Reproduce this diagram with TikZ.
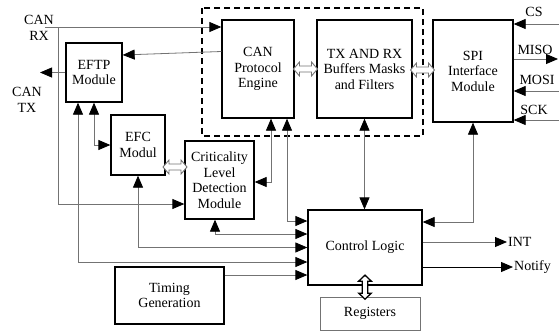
\documentclass[tikz,border=0pt]{standalone}
\usepackage{fontspec}
\setmainfont{Liberation Serif}
\usetikzlibrary{arrows.meta,calc}

\tikzset{
  blk/.style={draw, line width=1.3pt, align=center, inner sep=1pt, font=\fontsize{14}{15.5}\selectfont},
  wire/.style={draw=black!55, line width=0.8pt},
  to/.style={-{Triangle[length=12pt,width=10pt,color=black]}},
  from/.style={{Triangle[length=12pt,width=10pt,color=black]}-},
  both/.style={{Triangle[length=12pt,width=10pt,color=black]}-{Triangle[length=12pt,width=10pt,color=black]}},
  lbl/.style={font=\fontsize{14}{15.5}\selectfont, inner sep=1pt, align=center},
  busline/.style={draw=black!55, fill=white, line width=0.9pt},
  bus/.pic={
    \draw[busline]
      (-12,0) -- (-6,-7) -- (-6,-3) -- (6,-3) -- (6,-7) -- (12,0)
      -- (6,7) -- (6,3) -- (-6,3) -- (-6,7) -- cycle;
  }
}

\begin{document}
\begin{tikzpicture}[x=1pt, y=-1pt]
    \useasboundingbox (0,0) rectangle (559,332);

    % CAN controller core
    \draw[line width=1.3pt, dash pattern=on 6pt off 4pt] (202,8) rectangle (423,136);

    % blocks
    \node[blk, minimum width=72pt, minimum height=98pt] (eng) at (258,69) {CAN\\Protocol\\Engine};
    \node[blk, minimum width=95pt, minimum height=98pt] (buf) at (364.5,69) {TX AND RX\\Buffers Masks\\and Filters};
    \node[blk, minimum width=80pt, minimum height=102pt] (spi) at (473,71) {SPI\\Interface\\Module};
    \node[blk, minimum width=56pt, minimum height=59pt] (eftp) at (94,72.5) {EFTP\\Module};
    \node[blk, minimum width=54pt, minimum height=60pt] (efc) at (138,145) {EFC\\Modul};
    \node[blk, minimum width=69pt, minimum height=78pt] (cld) at (219.5,180) {Criticality\\Level\\Detection\\Module};
    \node[blk, minimum width=114pt, minimum height=75pt] (ctrl) at (365,247.5) {Control Logic};
    \node[blk, minimum width=109pt, minimum height=57pt] (tim) at (169.5,295.5) {Timing\\Generation};
    \node[blk, draw=black!55, line width=0.8pt, minimum width=100pt, minimum height=33pt] (reg) at (370,313.5) {Registers};

    % outside signals
    \node[lbl] (canrx) at (39,28) {CAN\\RX};
    \node[lbl] (cantx) at (27,100) {CAN\\TX};
    \node[lbl] (cs) at (534,12) {CS};
    \node[lbl] (miso) at (535,50) {MISO};
    \node[lbl] (mosi) at (537,80) {MOSI};
    \node[lbl] (sck) at (534,110) {SCK};
    \node[lbl, anchor=west] (int) at (507,242) {INT};
    \node[lbl, anchor=west] (ntf) at (513,267) {Notify};

    \coordinate (rxin) at (45,27);
    \coordinate (rxj) at (58,27);
    \coordinate (txout) at (40,72.5);
    \coordinate (csin) at (559,24);
    \coordinate (misoout) at (558,59);
    \coordinate (mosiin) at (559,91);
    \coordinate (sckin) at (559,120);

    % CAN side
    \draw[wire,to] (rxin) -- (rxin -| eng.west);
    \draw[wire,to] (rxj) |- ([yshift=-24pt]cld.west);
    \draw[wire,to] ([yshift=17.5pt]eng.west) -- ([yshift=17.5pt]eftp.east);
    \draw[wire,to] (eftp.west) -- (txout);
    \draw[wire,both] (eftp.south) |- (efc.west);
    \draw[wire,both] ([xshift=13pt]eng.south) |- ([yshift=-2pt]cld.east);

    % into control logic
    \draw[wire,both] ([xshift=29pt]eng.south) |- ([yshift=26.5pt]ctrl.west);
    \draw[wire,both] ([xshift=-4.5pt]cld.south) |- ([yshift=13.5pt]ctrl.west);
    \draw[wire,both] (efc.south) |- (ctrl.west);
    \draw[wire,both] ([xshift=-16pt]eftp.south) |- ([yshift=-14.5pt]ctrl.west);
    \draw[wire,to] ([yshift=-27.5pt]ctrl.west -| tim.east) -- ([yshift=-27.5pt]ctrl.west);
    \draw[wire,both] (buf.south) -- (buf.south |- ctrl.north);
    \draw[wire,both] (spi.south) |- ([yshift=25.5pt]ctrl.east);
    \draw[wire,to] ([yshift=5.5pt]ctrl.east) -- (int.west);
    \draw[wire,draw=black,to] ([yshift=-19.5pt]ctrl.east) -- (ntf.west);

    % SPI pins
    \draw[wire,from] (spi.east |- csin) -- (csin);
    \draw[wire,to] (spi.east |- misoout) -- (misoout);
    \draw[wire,from] (spi.east |- mosiin) -- (mosiin);
    \draw[wire,from] (spi.east |- sckin) -- (sckin);

    % bus arrows
    \pic at ($(eng.east)!0.5!(buf.west)$) {bus};
    \pic at ($(buf.east)!0.5!(spi.west)$) {bus};
    \pic at ($(efc.east)!0.5!(cld.west)+(0,4.5)$) {bus};
    \pic[rotate=90, yscale=0.9, busline/.style={draw=black, fill=white, line width=1.3pt}] at ($(ctrl.south)+(0,1.5)$) {bus};
\end{tikzpicture}
\end{document}
